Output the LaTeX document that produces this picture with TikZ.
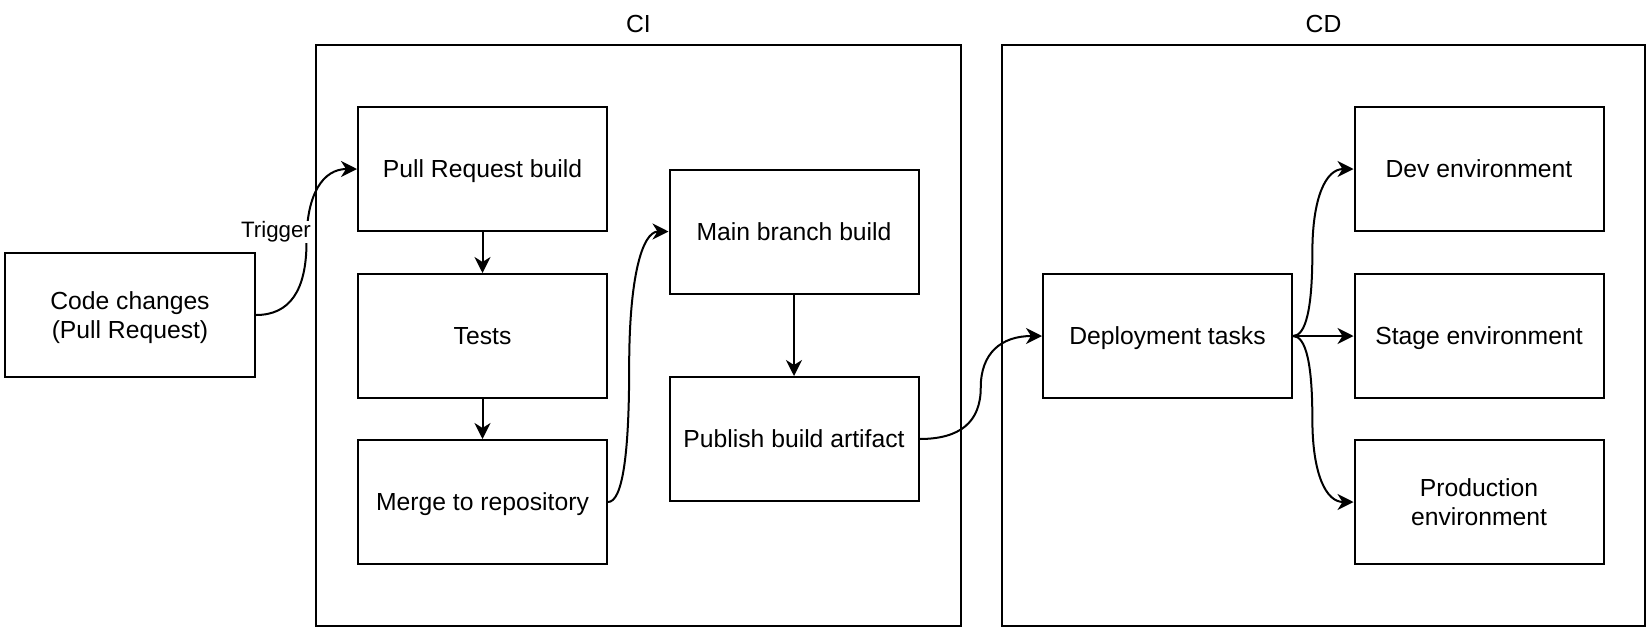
\documentclass[tikz,border=0pt]{standalone}
\usepackage{fontspec}
\setmainfont{Liberation Sans}
\usetikzlibrary{arrows.meta,calc}
\tikzset{
  lbl/.style={font=\fontsize{24.7}{28.5}\selectfont},
  stepbox/.style={draw, line width=2pt, minimum width=249pt, minimum height=124pt,
                  inner sep=0pt, align=center, text depth=0pt, lbl},
  groupbox/.style={draw, line width=2pt, inner sep=0pt},
  arr/.style={line width=2pt, -{Stealth[length=16pt,width=16pt,inset=5pt]}},
  dcurve/.style={to path={
    let \p1=(\tikztostart), \p2=(\tikztotarget),
        \p3=({\x1+#1*(\x2-\x1)},{(\y1+\y2)/2}) in
    .. controls ({\x1+2/3*(\x3-\x1)},\y1) and (\x3,{\y3+2/3*(\y1-\y3)}) .. (\x3,\y3)
    .. controls (\x3,{\y3+2/3*(\y2-\y3)}) and ({\x2+2/3*(\x3-\x2)},\y2) .. (\tikztotarget)}},
  dcurve/.default=0.5
}
\begin{document}
\begin{tikzpicture}[x=1pt,y=-1pt]
\useasboundingbox (0,0) rectangle (1650,630);
% containers
\node[groupbox, minimum width=645pt, minimum height=581pt] (ci) at (638.5,335.5) {};
\node[groupbox, minimum width=643pt, minimum height=581pt] (cd) at (1323.5,335.5) {};
\node[lbl] (cilbl) at (638.5,24) {CI};
\node[lbl] (cdlbl) at (1323.5,24) {CD};
% boxes
\node[stepbox, minimum width=250pt] (cc) at (130,315) {Code changes\\(Pull Request)};
\node[stepbox] (pr) at (482.5,169) {Pull Request build};
\node[stepbox] (tests) at (482.5,336) {Tests};
\node[stepbox] (merge) at (482.5,502) {Merge to repository};
\node[stepbox] (main) at (794,231.5) {Main branch build};
\node[stepbox] (pub) at (794,439) {Publish build artifact};
\node[stepbox] (dep) at (1167.5,336) {Deployment tasks};
\node[stepbox] (dev) at (1479,169) {Dev environment};
\node[stepbox] (stage) at (1479,336) {Stage environment};
\node[stepbox] (prod) at (1479,502) {Production\\environment};
% connectors
\draw[arr] (cc.east) to[dcurve=0.5] (pr.west);
\node[fill=white, inner sep=1pt, font=\fontsize{22.3}{25}\selectfont] (trig) at (276,232) {Trigger};
\draw[arr] (pr.south) -- (tests.north);
\draw[arr] (tests.south) -- (merge.north);
\draw[arr] (merge.east) to[dcurve=0.35] (main.west);
\draw[arr] (main.south) -- (pub.north);
\draw[arr] (pub.east) to[dcurve=0.5] (dep.west);
\draw[arr] (dep.east) to[dcurve=0.32] (dev.west);
\draw[arr] (dep.east) -- (stage.west);
\draw[arr] (dep.east) to[dcurve=0.32] (prod.west);
\end{tikzpicture}
\end{document}
